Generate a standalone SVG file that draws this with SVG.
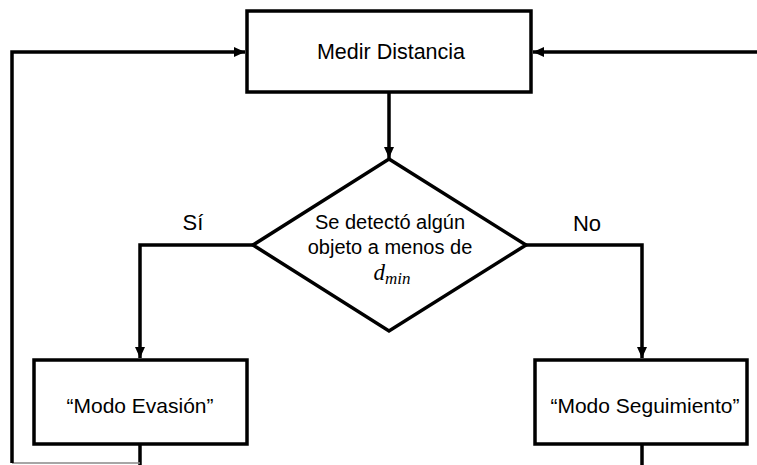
<svg xmlns="http://www.w3.org/2000/svg" width="757" height="465" viewBox="0 0 757 465">
<style>
.box{fill:#fff;stroke:#000;stroke-width:3.5}
.ln{fill:none;stroke:#000;stroke-width:3.5}
.t{font-family:"Liberation Sans",Arial,sans-serif;fill:#000;text-anchor:middle}
</style>
<defs>
<marker id="ah" markerUnits="userSpaceOnUse" markerWidth="12" markerHeight="11" refX="11" refY="5" orient="auto">
<path d="M0,0 L11,5 L0,10 z" fill="#000"/>
</marker>
</defs>
<rect width="757" height="465" fill="#fff"/>
<g id="connectors">
<path class="ln" d="M389,92 V158" marker-end="url(#ah)"/>
<path class="ln" d="M253,245 H140 V358" marker-end="url(#ah)"/>
<path class="ln" d="M526,245 H642 V358" marker-end="url(#ah)"/>
<path class="ln" d="M140,444 V465"/>
<path class="ln" d="M642,444 V465"/>
<path d="M140,463 H12" fill="none" stroke="#888" stroke-width="1.5"/>
<path class="ln" d="M12,463 V52 H245" marker-end="url(#ah)"/>
<path class="ln" d="M757,52 H533" marker-end="url(#ah)"/>
</g>
<g id="medir">
<rect class="box" x="247" y="11" width="284" height="81"/>
<text class="t" x="391" y="59" font-size="21.5">Medir Distancia</text>
</g>
<g id="decision">
<polygon class="box" points="389,159 526,245 389,331 253,245"/>
<text class="t" x="390" y="229" font-size="20">Se detectó algún</text>
<text class="t" x="390" y="254" font-size="20">objeto a menos de</text>
<text x="392" y="280" font-family="'Liberation Serif','Times New Roman',serif" font-style="italic" font-size="23" text-anchor="middle">d<tspan font-size="17" dy="4">min</tspan></text>
</g>
<g id="labels">
<text class="t" x="193" y="230" font-size="22">Sí</text>
<text class="t" x="587" y="231" font-size="22">No</text>
</g>
<g id="evasion">
<rect class="box" x="34" y="360" width="213" height="84"/>
<text class="t" x="140" y="413" font-size="21">“Modo Evasión”</text>
</g>
<g id="seguimiento">
<rect class="box" x="535" y="360" width="212" height="84"/>
<text class="t" x="645" y="413" font-size="21">“Modo Seguimiento”</text>
</g>
</svg>
